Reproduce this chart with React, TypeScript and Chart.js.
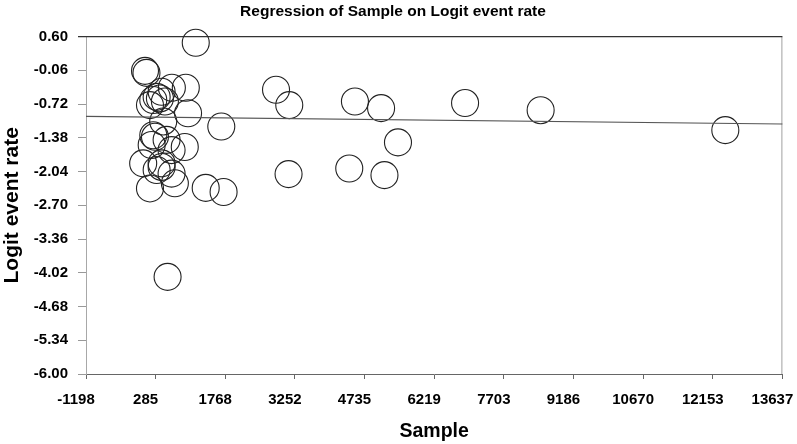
import React, { useEffect, useRef } from "react";
import { Chart, registerables } from "chart.js";

Chart.register(...registerables);

const chartTitle = "Regression of Sample on Logit event rate";
const xAxisTitle = "Sample";
const yAxisTitle = "Logit event rate";

const sampleSize = [
  1140, 59, 90, 631, 928, 413, 307, 235, 377, 165, 483, 976, 447, 1684, 235, 271,
  519, 906, 201, 625, 20, 413, 307, 413, 625, 695, 165, 1352, 1733, 540, 2850, 3132,
  3117, 4531, 5088, 5448, 4410, 5160, 6877, 8487, 12421,
];
const logitEventRate = [
  0.48, -0.07, -0.11, -0.4, -0.4, -0.48, -0.58, -0.64, -0.61, -0.74, -0.67, -0.9, -1.06,
  -1.16, -1.33, -1.36, -1.42, -1.56, -1.52, -1.62, -1.88, -1.88, -2.01, -1.95, -2.08,
  -2.27, -2.37, -2.36, -2.44, -4.1, -0.44, -0.74, -2.09, -0.67, -0.8, -1.47, -1.98, -2.11,
  -0.7, -0.84, -1.23,
];

const regressionX = [-1198, 13637];
const regressionY = [-0.96, -1.11];

const xTickLabels = ["-1198", "285", "1768", "3252", "4735", "6219", "7703", "9186", "10670", "12153", "13637"];
const yTickLabels = ["0.60", "-0.06", "-0.72", "-1.38", "-2.04", "-2.70", "-3.36", "-4.02", "-4.68", "-5.34", "-6.00"];

const FONT = "'Liberation Sans', Arial, Helvetica, sans-serif";

const framePlugin = {
  id: "frame",
  beforeDatasetsDraw(chart: any) {
    const { ctx, chartArea } = chart;
    const { left, right, top, bottom } = chartArea;
    ctx.save();
    ctx.lineWidth = 1;
    ctx.strokeStyle = "#a0a0a0";
    ctx.beginPath();
    ctx.moveTo(right - 0.5, top);
    ctx.lineTo(right - 0.5, bottom);
    ctx.stroke();
    ctx.strokeStyle = "#333";
    ctx.lineWidth = 1.3;
    ctx.beginPath();
    ctx.moveTo(left - 8, top);
    ctx.lineTo(right, top);
    ctx.stroke();
    ctx.restore();
  },
};

export default function App() {
  const canvasRef = useRef<HTMLCanvasElement | null>(null);

  useEffect(() => {
    if (!canvasRef.current) return;
    const points = sampleSize.map((x, i) => ({ x, y: logitEventRate[i] }));
    const regression = regressionX.map((x, i) => ({ x, y: regressionY[i] }));
    const xTickValues = xTickLabels.map(Number);
    const yTickValues = yTickLabels.map(Number);

    const chart = new Chart(canvasRef.current, {
      type: "scatter",
      data: {
        datasets: [
          {
            type: "line",
            data: regression,
            borderColor: "#555",
            borderWidth: 1.2,
            pointRadius: 0,
            fill: false,
            clip: false as any,
          },
          {
            type: "scatter",
            data: points,
            pointRadius: 13.5,
            pointHoverRadius: 13.5,
            pointStyle: "circle",
            borderColor: "#222",
            borderWidth: 1.1,
            backgroundColor: "rgba(0,0,0,0)",
            clip: false as any,
          },
        ],
      },
      options: {
        responsive: false,
        animation: false,
        events: [],
        layout: { padding: { left: 0, right: 11, top: 0, bottom: 0 } },
        plugins: {
          legend: { display: false },
          tooltip: { enabled: false },
          title: {
            display: true,
            text: chartTitle,
            color: "#000",
            font: { family: FONT, size: 15.5, weight: "bold" },
            padding: { top: 2, bottom: 16 },
          },
        },
        scales: {
          x: {
            type: "linear",
            min: -1198,
            max: 13637,
            afterBuildTicks: (s: any) => {
              s.ticks = xTickValues.map((v) => ({ value: v }));
            },
            afterFit: (s: any) => {
              s.height = 70;
              s.paddingLeft = 0;
              s.paddingRight = 0;
            },
            border: { display: true, color: "#666", width: 1 },
            grid: { display: true, drawOnChartArea: false, drawTicks: true, tickLength: 5, color: "#666" },
            ticks: {
              autoSkip: false,
              maxRotation: 0,
              minRotation: 0,
              padding: 12,
              labelOffset: -10,
              color: "#000",
              font: { family: FONT, size: 15, weight: "bold" },
              callback: (_v: any, i: number) => xTickLabels[i],
            },
            title: {
              display: true,
              text: xAxisTitle,
              color: "#000",
              font: { family: FONT, size: 19.5, weight: "bold" },
              padding: { top: 0, bottom: 1 },
            },
          },
          y: {
            type: "linear",
            min: -6,
            max: 0.6,
            afterBuildTicks: (s: any) => {
              s.ticks = yTickValues.map((v) => ({ value: v }));
            },
            afterFit: (s: any) => {
              s.width = 86;
            },
            border: { display: true, color: "#a8a8a8", width: 1 },
            grid: { display: true, drawOnChartArea: false, drawTicks: true, tickLength: 8, color: "#999" },
            ticks: {
              autoSkip: false,
              padding: 10,
              color: "#000",
              font: { family: FONT, size: 15, weight: "bold" },
              callback: (_v: any, i: number) => yTickLabels[i],
            },
            title: {
              display: true,
              text: yAxisTitle,
              color: "#000",
              font: { family: FONT, size: 21, weight: "bold" },
              padding: { top: 0, bottom: 0 },
            },
          },
        },
      },
      plugins: [framePlugin],
    });
    return () => chart.destroy();
  }, []);

  return (
    <div style={{ position: "fixed", left: 0, top: 0, width: 797, height: 444, background: "#fff" }}>
      <canvas ref={canvasRef} width={797} height={444} style={{ display: "block" }} />
    </div>
  );
}
